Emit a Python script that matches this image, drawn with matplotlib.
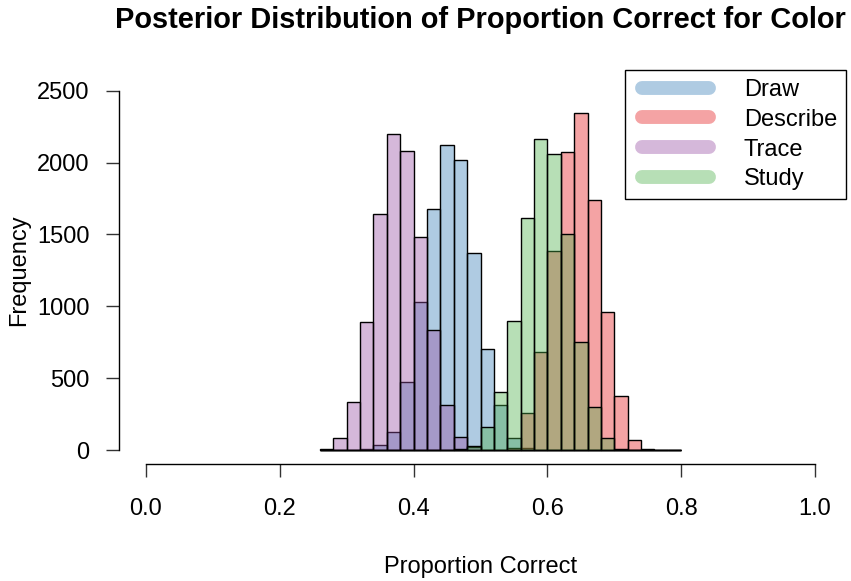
import matplotlib
matplotlib.use("Agg")
import matplotlib.pyplot as plt
import numpy as np
from matplotlib.lines import Line2D
from matplotlib.legend_handler import HandlerLine2D

plt.rcParams['font.family'] = ['Liberation Sans', 'DejaVu Sans']

# histogram bins of width 0.02 spanning 0.26 .. 0.80
bin_edges = np.round(np.arange(0.26, 0.8001, 0.02), 2)

series = ['Draw', 'Describe', 'Trace', 'Study']
draw_counts = [0, 0, 0, 5, 35, 128, 476, 1032, 1675, 2123, 2018, 1369, 700,
               313, 81, 15, 3, 0, 0, 0, 0, 0, 0, 0, 0, 0, 0]
describe_counts = [0, 0, 0, 0, 0, 0, 0, 0, 0, 0, 0, 0, 0,
                   3, 15, 260, 684, 1387, 2072, 2343, 1740, 963, 376, 70, 10, 0, 0]
trace_counts = [5, 81, 332, 891, 1640, 2197, 2081, 1485, 835, 313, 93, 20, 3,
                0, 0, 0, 0, 0, 0, 0, 0, 0, 0, 0, 0, 0, 0]
study_counts = [0, 0, 0, 0, 0, 0, 0, 0, 0, 2, 8, 30, 162,
                404, 900, 1612, 2162, 2058, 1503, 749, 302, 81, 8, 1, 0, 0, 0]
counts = [draw_counts, describe_counts, trace_counts, study_counts]

# Set1 palette, filled at 40% opacity
base_colors = ['#377EB8', '#E41A1C', '#984EA3', '#4DAF4A']
alpha = 0.4

x_ticks = [0.0, 0.2, 0.4, 0.6, 0.8, 1.0]
y_ticks = [0, 500, 1000, 1500, 2000, 2500]

W, H = 851, 581
fig = plt.figure(figsize=(W / 100, H / 100), dpi=100)
ax = fig.add_axes([119.2 / W, 1 - 464.4 / H, 722.6 / W, 388.1 / H])

left = bin_edges[:-1]
width = np.diff(bin_edges)
for c, col in zip(counts, base_colors):
    rgba = matplotlib.colors.to_rgba(col, alpha)
    ax.bar(left, c, width=width, align='edge', facecolor=rgba,
           edgecolor='black', linewidth=1.0)

ax.set_xlim(-0.04, 1.04)
ax.set_ylim(-100, 2600)
for side in ('top', 'right'):
    ax.spines[side].set_visible(False)
ax.spines['bottom'].set_bounds(0, 1)
ax.spines['left'].set_bounds(0, 2500)
for side in ('bottom', 'left'):
    ax.spines[side].set_linewidth(1.0)
ax.set_xticks(x_ticks)
ax.set_xticklabels([f'{v:.1f}' for v in x_ticks])
ax.set_yticks(y_ticks)
ax.set_yticklabels([str(v) for v in y_ticks])
ax.tick_params(axis='both', direction='out', length=9.4, width=1.0,
               labelsize=17, color='#333333')
ax.tick_params(axis='x', pad=15)
ax.tick_params(axis='y', pad=12)

ax.set_xlabel('Proportion Correct', fontsize=17)
ax.xaxis.set_label_coords(0.5, -(567 - 464.4) / 388.1)
ax.xaxis.label.set_va('center')
ax.set_ylabel('Frequency', fontsize=17)
ax.yaxis.set_label_coords((19 - 119.2) / 722.6, 0.5)
ax.yaxis.label.set_va('center')

fig.text(0.5 * (119.2 + 841.8) / W, 1 - 20 / H,
         'Posterior Distribution of Proportion Correct for Color',
         ha='center', va='center', fontsize=20.9, fontweight='bold')

# thick round-capped swatches, inset from the handle box so the caps clear the frame
handles = [Line2D([], [], color=matplotlib.colors.to_rgba(col, alpha), lw=10,
                  solid_capstyle='round') for col in base_colors]
leg = ax.legend(handles, series, loc='upper left',
                bbox_to_anchor=(625 / W, 1 - 70 / H), bbox_transform=fig.transFigure,
                borderaxespad=0, fontsize=17, fancybox=False, framealpha=1,
                edgecolor='black', borderpad=0.38, handlelength=3.5,
                handletextpad=1.15, labelspacing=0.33, numpoints=2,
                handler_map={Line2D: HandlerLine2D(marker_pad=0.34)})
leg.get_frame().set_linewidth(1.0)

fig.savefig('out.png', dpi=100)
